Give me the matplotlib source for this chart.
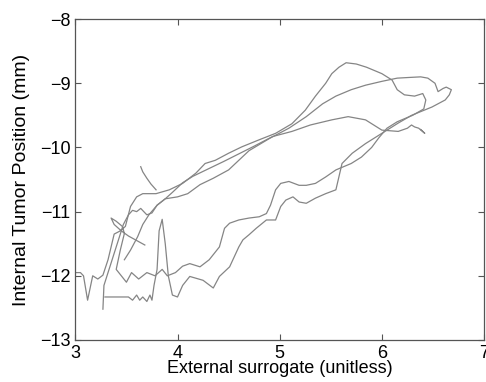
import matplotlib
matplotlib.use("Agg")
import matplotlib.pyplot as plt

# three breathing cycles (external surrogate, tumor position)
cycle1_x = [3.00, 3.05, 3.08, 3.12, 3.17, 3.22, 3.27, 3.32, 3.38, 3.44, 3.49, 3.54, 3.60, 3.66,
            3.79, 3.92, 4.05, 4.18, 4.27, 4.37, 4.50, 4.63, 4.80, 4.96, 5.12, 5.25, 5.35, 5.45,
            5.51, 5.58, 5.65, 5.75, 5.85, 6.00, 6.10, 6.15, 6.22, 6.32, 6.40, 6.43, 6.41, 6.30,
            6.15, 6.05, 5.97, 5.90, 5.80, 5.70, 5.55, 5.45, 5.35, 5.26, 5.19, 5.09, 5.01, 4.96,
            4.91, 4.87, 4.80, 4.70, 4.60, 4.51, 4.46, 4.41, 4.31, 4.22, 4.12, 4.05, 3.98, 3.90,
            3.85, 3.78, 3.70, 3.62, 3.55, 3.50, 3.45, 3.40, 3.44, 3.48, 3.46, 3.40, 3.35, 3.38,
            3.45, 3.52, 3.60, 3.68]
cycle1_y = [-11.95, -11.95, -12.00, -12.38, -12.00, -12.05, -11.99, -11.75, -11.35, -11.30,
            -11.23, -10.92, -10.77, -10.72, -10.72, -10.66, -10.56, -10.40, -10.25, -10.20,
            -10.09, -9.99, -9.88, -9.78, -9.63, -9.42, -9.20, -9.00, -8.85, -8.75, -8.68,
            -8.70, -8.75, -8.85, -8.95, -9.10, -9.18, -9.20, -9.16, -9.26, -9.40, -9.50,
            -9.60, -9.70, -9.85, -10.00, -10.15, -10.25, -10.35, -10.46, -10.56, -10.59,
            -10.59, -10.53, -10.56, -10.66, -10.90, -11.03, -11.08, -11.10, -11.13, -11.18,
            -11.26, -11.55, -11.75, -11.86, -11.81, -11.85, -11.95, -12.00, -11.90, -12.00,
            -11.95, -12.05, -11.95, -12.10, -12.00, -11.90, -11.60, -11.34, -11.23, -11.15,
            -11.10, -11.20, -11.30, -11.38, -11.45, -11.52]

cycle2_x = [3.48, 3.54, 3.61, 3.66, 3.72, 3.80, 3.88, 4.00, 4.10, 4.22, 4.35, 4.50, 4.60,
            4.70, 4.90, 5.09, 5.26, 5.42, 5.55, 5.70, 5.84, 6.00, 6.06, 6.15, 6.26, 6.38,
            6.45, 6.52, 6.55, 6.60, 6.63, 6.68, 6.66, 6.62, 6.49, 6.29, 6.16, 6.00, 5.84,
            5.71, 5.61, 5.55, 5.45, 5.35, 5.26, 5.19, 5.13, 5.06, 5.01, 4.96, 4.87, 4.77,
            4.70, 4.64, 4.60, 4.51, 4.41, 4.35, 4.25, 4.12, 4.05, 4.00, 3.95, 3.91, 3.88,
            3.85, 3.82, 3.80, 3.77, 3.75, 3.73, 3.70, 3.66, 3.63, 3.60, 3.56, 3.52, 3.40,
            3.29]
cycle2_y = [-11.75, -11.60, -11.39, -11.20, -11.05, -10.90, -10.80, -10.77, -10.72, -10.58,
            -10.48, -10.35, -10.20, -10.05, -9.86, -9.70, -9.52, -9.32, -9.20, -9.10, -9.03,
            -8.97, -8.95, -8.92, -8.91, -8.90, -8.92, -9.00, -9.13, -9.08, -9.06, -9.10,
            -9.18, -9.26, -9.37, -9.50, -9.62, -9.78, -9.94, -10.09, -10.25, -10.66, -10.72,
            -10.79, -10.87, -10.85, -10.77, -10.82, -10.92, -11.13, -11.13, -11.26, -11.36,
            -11.44, -11.55, -11.86, -12.01, -12.19, -12.07, -12.01, -12.15, -12.33, -12.30,
            -12.00, -11.50, -11.12, -11.30, -11.90, -12.15, -12.38, -12.30, -12.40, -12.33,
            -12.38, -12.30, -12.38, -12.33, -12.33, -12.33]

cycle3_x = [3.27, 3.28, 3.32, 3.36, 3.42, 3.47, 3.52, 3.56, 3.60, 3.64, 3.70, 3.75, 3.80,
            3.88, 3.95, 4.05, 4.15, 4.28, 4.45, 4.60, 4.75, 4.93, 5.12, 5.30, 5.51, 5.67,
            5.84, 6.00, 6.16, 6.25, 6.29, 6.32, 6.36, 6.42, 6.38]
cycle3_y = [-12.52, -12.15, -11.95, -11.75, -11.45, -11.20, -11.05, -10.98, -11.00, -10.95,
            -11.05, -11.02, -10.90, -10.80, -10.70, -10.55, -10.45, -10.35, -10.22, -10.10,
            -9.98, -9.83, -9.75, -9.65, -9.57, -9.52, -9.57, -9.73, -9.75, -9.70, -9.65,
            -9.68, -9.70, -9.78, -9.72]

# small spur near the upper-left of the loops
spur_x = [3.64, 3.66, 3.70, 3.74, 3.79]
spur_y = [-10.30, -10.38, -10.48, -10.57, -10.66]

plt.rcParams['font.family'] = ['Liberation Sans', 'DejaVu Sans']

fig = plt.figure(figsize=(4.86, 3.82), dpi=100)
ax = fig.add_axes([0.155, 0.11, 0.841, 0.84])

line_color = '#858585'
for xs, ys in [(cycle1_x, cycle1_y), (cycle2_x, cycle2_y), (cycle3_x, cycle3_y), (spur_x, spur_y)]:
    ax.plot(xs, ys, color=line_color, linewidth=0.9)

ax.set_xlim(3, 7)
ax.set_ylim(-13, -8)
ax.set_xticks([3, 4, 5, 6, 7])
ax.set_yticks([-13, -12, -11, -10, -9, -8])
ax.tick_params(direction='in', top=True, right=True, labelsize=13, length=4, color='#555555')
for s in ax.spines.values():
    s.set_color('#555555')
    s.set_linewidth(0.9)

ax.set_xlabel('External surrogate (unitless)', fontsize=13, labelpad=-1)
ax.set_ylabel('Internal Tumor Position (mm)', fontsize=14, labelpad=7)

fig.savefig('out.png', dpi=100)
